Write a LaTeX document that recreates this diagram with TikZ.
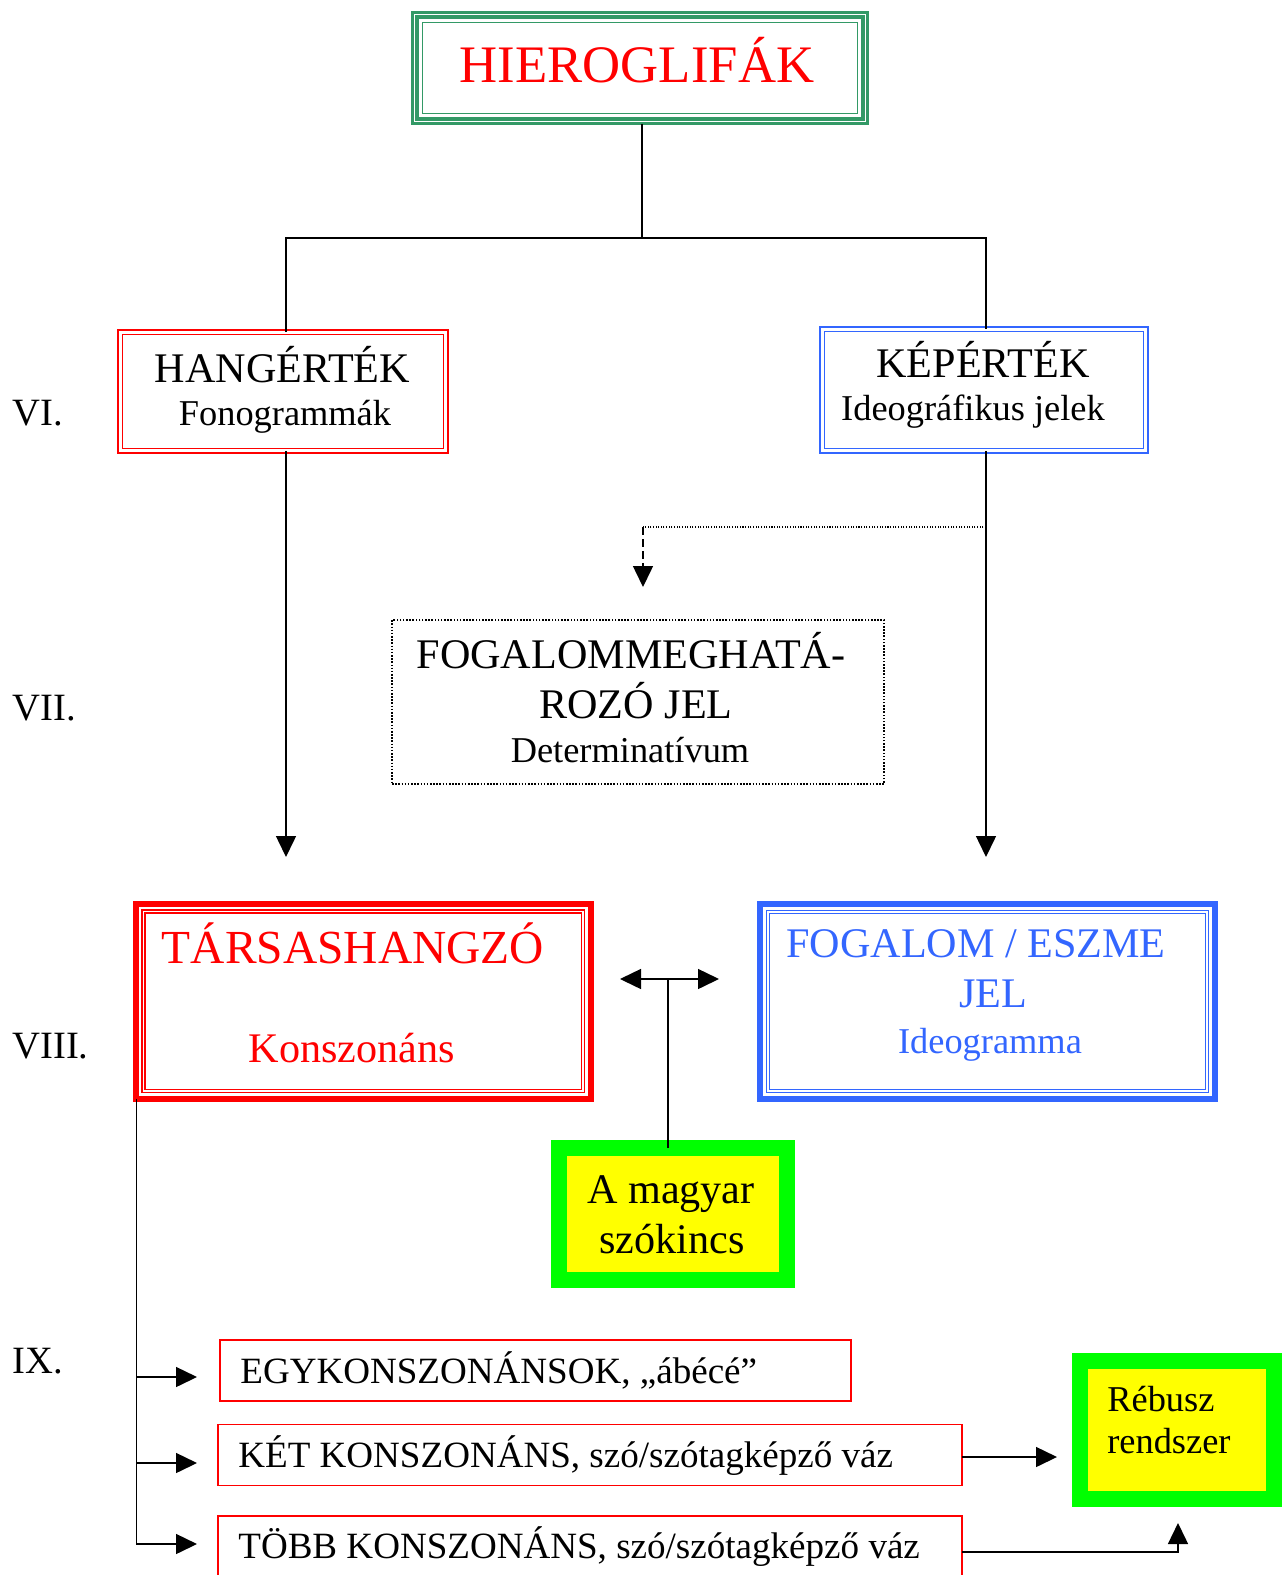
\documentclass[tikz,border=0pt]{standalone}
\usepackage{fontspec}
\setmainfont{Liberation Serif}
\usetikzlibrary{arrows.meta}
\definecolor{HierGreen}{HTML}{339966}
\definecolor{IdeoBlue}{HTML}{3366FF}
\definecolor{LexGreen}{HTML}{00FF00}
\definecolor{LexYellow}{HTML}{FFFF00}
\tikzset{
  box/.style={rectangle, inner sep=0pt, outer sep=0pt},
  conn/.style={line width=0.85pt},
  arr/.style={conn, -{Triangle[length=0.42cm, width=0.4cm]}},
  arrboth/.style={conn, {Triangle[length=0.42cm, width=0.4cm]}-{Triangle[length=0.42cm, width=0.4cm]}},
  txt/.style={inner sep=0pt, anchor=base},
  txtl/.style={inner sep=0pt, anchor=base west},
  fTitle/.style={font=\fontsize{30}{36}\selectfont},
  fHead/.style={font=\fontsize{24}{29}\selectfont},
  fBig/.style={font=\fontsize{27}{32}\selectfont},
  fSub/.style={font=\fontsize{20.7}{25}\selectfont},
  fList/.style={font=\fontsize{21.1}{25}\selectfont},
  fNum/.style={font=\fontsize{22}{26}\selectfont},
}

\begin{document}
\begin{tikzpicture}[x=0.02cm, y=-0.02cm]
  \useasboundingbox (0,0) rectangle (1283,1575);
  \clip (0,0) rectangle (1283,1575);

  % level labels
  \node[fNum, txtl] (n6) at (12,425) {VI.};
  \node[fNum, txtl] (n7) at (12,720) {VII.};
  \node[fNum, txtl] (n8) at (12,1058) {VIII.};
  \node[fNum, txtl] (n9) at (12,1373) {IX.};

  % top box, three green frames
  \node[box, draw=HierGreen, line width=0.05cm, minimum width=9.11cm, minimum height=2.23cm] (hier) at (640,68) {};
  \draw[HierGreen, line width=0.08cm] ([shift={(4.75,4.75)}]hier.north west) rectangle ([shift={(-4.75,-4.75)}]hier.south east);
  \draw[HierGreen, line width=0.03cm] ([shift={(10,10)}]hier.north west) rectangle ([shift={(-10,-10)}]hier.south east);
  \node[fTitle, txt, text=red] (hierT) at (637,83) {HIEROGLIFÁK};

  % VI.
  \node[box, draw=red, line width=0.034cm, double=white, double distance=0.06cm, minimum width=6.512cm, minimum height=2.372cm] (hang) at (283,391.5) {};
  \node[fHead, txt] (hangT) at (282.5,382) {HANGÉRTÉK};
  \node[fSub, txt] (hangS) at (285,425) {Fonogrammák};

  \node[box, draw=IdeoBlue, line width=0.034cm, double=white, double distance=0.06cm, minimum width=6.472cm, minimum height=2.432cm] (kep) at (984,390) {};
  \node[fHead, txt] (kepT) at (983,377) {KÉPÉRTÉK};
  \node[fSub, txt] (kepS) at (973,420) {Ideográfikus jelek};

  % VII.
  \node[box, draw, line width=0.9pt, dash pattern=on 0.9pt off 0.9pt, minimum width=9.84cm, minimum height=3.28cm] (det) at (638,702) {};
  \node[fHead, txt] (detT) at (631,668) {FOGALOMMEGHATÁ-};
  \node[fHead, txt] (detU) at (636,718) {ROZÓ JEL};
  \node[fSub, txt] (detS) at (630,762) {Determinatívum};

  % VIII.
  \node[box, draw=red, line width=0.12cm, minimum width=9.11cm, minimum height=3.91cm] (tars) at (363.25,1001.25) {};
  \foreach \d in {6.5,9.5}
    \draw[red, line width=0.026cm] ([shift={(\d,\d)}]tars.north west) rectangle ([shift={(-\d,-\d)}]tars.south east);
  \node[fBig, txt, text=red] (tarsT) at (353,963) {TÁRSASHANGZÓ};
  \node[fHead, txt, text=red] (tarsS) at (352,1062) {Konszonáns};

  \node[box, draw=IdeoBlue, line width=0.12cm, minimum width=9.1cm, minimum height=3.89cm] (fog) at (987.5,1001.5) {};
  \foreach \d in {6.5,9.5}
    \draw[IdeoBlue, line width=0.026cm] ([shift={(\d,\d)}]fog.north west) rectangle ([shift={(-\d,-\d)}]fog.south east);
  \node[fHead, txt, text=IdeoBlue] (fogT) at (976,957) {FOGALOM / ESZME};
  \node[fHead, txt, text=IdeoBlue] (fogU) at (993,1007) {JEL};
  \node[fSub, txt, text=IdeoBlue] (fogS) at (990,1053) {Ideogramma};

  \node[box, draw=LexGreen, fill=LexYellow, line width=0.32cm, minimum width=4.56cm, minimum height=2.64cm] (szok) at (673,1214) {};
  \node[fHead, txt] (szokT) at (671,1203) {A magyar};
  \node[fHead, txt] (szokU) at (672,1253) {szókincs};

  % IX.
  \node[box, draw=red, line width=0.03cm, minimum width=12.62cm, minimum height=1.22cm] (egy) at (535.5,1370.5) {};
  \node[fList, txtl] (egyT) at (240,1383) {EGYKONSZONÁNSOK, „ábécé”};
  \node[box, draw=red, line width=0.03cm, minimum width=14.88cm, minimum height=1.22cm] (ket) at (590,1455) {};
  \node[fList, txtl] (ketT) at (238,1467) {KÉT KONSZONÁNS, szó/szótagképző váz};
  \node[box, draw=red, line width=0.03cm, minimum width=14.88cm, minimum height=1.44cm] (tobb) at (590,1552) {};
  \node[fList, txtl] (tobbT) at (238,1558) {TÖBB KONSZONÁNS, szó/szótagképző váz};

  \node[box, draw=LexGreen, fill=LexYellow, line width=0.32cm, minimum width=3.88cm, minimum height=2.77cm] (reb) at (1177,1430) {};
  \node[fSub, txtl] (rebT) at (1107,1411) {Rébusz};
  \node[fSub, txtl] (rebU) at (1107,1453) {rendszer};

  % connectors
  \coordinate (split) at (642,238);
  \draw[conn] (hier.south -| split) -- (split);
  \draw[conn] ([shift={(3,0)}]hang.north) |- (split) -| ([shift={(2,0)}]kep.north);

  \coordinate (tarsin) at (286,857);
  \coordinate (fogin) at (986,857);
  \draw[arr] (hang.south -| tarsin) -- (tarsin);
  \draw[arr] (kep.south -| fogin) -- (fogin);

  \coordinate (detknee) at (643,527);
  \coordinate (detin) at (643,587);
  \draw[line width=0.6pt, dash pattern=on 0.6pt off 0.9pt] (fogin |- detknee) -- (detknee);
  \draw[arr, dash pattern=on 4.5pt off 2.3pt] (detknee) -- (detin);

  \coordinate (lexl) at (620,979);
  \coordinate (lexr) at (719,979);
  \coordinate (lexmid) at (668,979);
  \draw[arrboth] (lexl) -- (lexr);
  \draw[conn] (szok.north -| lexmid) -- (lexmid);

  \coordinate (egyin) at (197,1377);
  \coordinate (ketin) at (197,1463);
  \coordinate (tobbin) at (197,1544);
  \draw[arr] ([shift={(1,0)}]tars.south west) |- (tobbin);
  \draw[arr] ([shift={(1,0)}]tars.south west |- egyin) -- (egyin);
  \draw[arr] ([shift={(1,0)}]tars.south west |- ketin) -- (ketin);

  \coordinate (rebin) at (1057,1457);
  \coordinate (rebup) at (1178,1523);
  \draw[arr] (ket.east |- rebin) -- (rebin);
  \draw[arr] (tobb.east) -| (rebup);
\end{tikzpicture}
\end{document}
